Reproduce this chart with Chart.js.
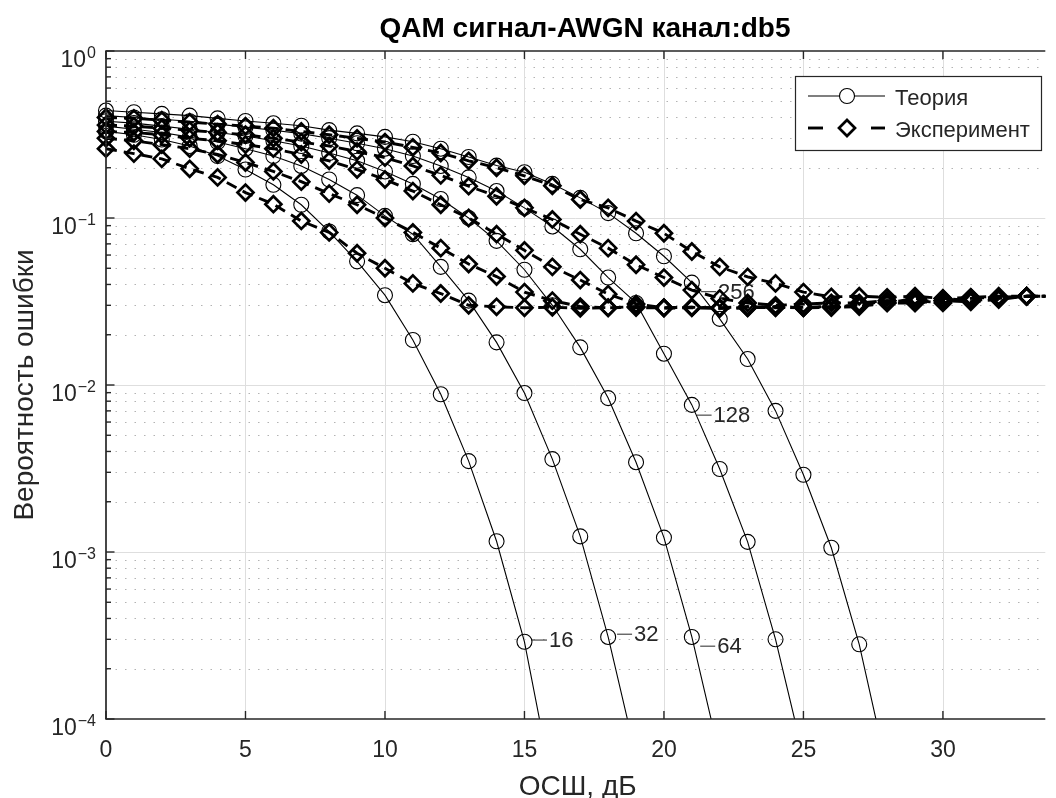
<!DOCTYPE html>
<html><head><meta charset="utf-8">
<script src="https://cdn.jsdelivr.net/npm/chart.js@4.4.1/dist/chart.umd.min.js"></script>
<style>html,body{margin:0;padding:0;background:#fff;overflow:hidden}#wrap{width:1056px;height:798px}</style>
</head><body><div id="wrap"><canvas id="c" width="1056" height="798"></canvas></div>
<script>
// ---------- data ----------
const snrDb = [0,1,2,3,4,5,6,7,8,9,10,11,12,13,14,15,16,17,18,19,20,21,22,23,24,25,26,27,28,29,30,31,32,33,34];
const orders = ['16','32','64','128','256'];

const theory16  = [0.33,0.315,0.295,0.27,0.235,0.195,0.158,0.12,0.083,0.055,0.0345,0.0186,0.0088,0.0035,0.00116,0.00029,0.00004];
const theory32  = [0.355,0.34,0.325,0.305,0.285,0.26,0.235,0.205,0.17,0.137,0.103,0.08,0.051,0.032,0.018,0.00895,0.0036,0.00124,0.00031,0.00006];
const theory64  = [0.38,0.37,0.355,0.34,0.325,0.31,0.29,0.27,0.245,0.22,0.19,0.16,0.13,0.10,0.073,0.049,0.03,0.0168,0.00835,0.00345,0.00122,0.00031,0.00006];
const theory128 = [0.41,0.40,0.39,0.38,0.365,0.35,0.335,0.32,0.30,0.28,0.26,0.235,0.205,0.175,0.145,0.115,0.089,0.065,0.044,0.031,0.0154,0.0076,0.00314,0.00115,0.0003,0.00006];
const theory256 = [0.44,0.43,0.42,0.41,0.395,0.381,0.369,0.357,0.336,0.321,0.306,0.286,0.26,0.232,0.206,0.188,0.16,0.132,0.107,0.081,0.059,0.041,0.0249,0.0143,0.007,0.0029,0.00106,0.00028,0.00005];

const exper16  = [0.26,0.243,0.226,0.197,0.175,0.142,0.121,0.096,0.082,0.0615,0.05,0.0406,0.0353,0.030,0.0294,0.029,0.0292,0.0288,0.029,0.0291,0.0289,0.029,0.0288,0.029,0.0292,0.029,0.0291,0.0295,0.031,0.031,0.032,0.0315,0.0325,0.034,0.034];
const exper32  = [0.30,0.29,0.275,0.26,0.24,0.215,0.19,0.165,0.14,0.12,0.10,0.082,0.066,0.053,0.0446,0.036,0.032,0.0295,0.029,0.0295,0.029,0.0292,0.029,0.0295,0.029,0.0292,0.0295,0.030,0.032,0.031,0.033,0.032,0.033,0.034,0.034];
const exper64  = [0.33,0.325,0.315,0.30,0.29,0.275,0.26,0.24,0.22,0.195,0.17,0.145,0.12,0.10,0.08,0.064,0.051,0.0425,0.035,0.0306,0.029,0.0292,0.0288,0.029,0.0295,0.029,0.0293,0.030,0.031,0.033,0.032,0.033,0.0335,0.034,0.034];
const exper128 = [0.36,0.355,0.345,0.335,0.325,0.315,0.30,0.285,0.27,0.25,0.23,0.205,0.18,0.155,0.135,0.115,0.098,0.08,0.066,0.0525,0.044,0.037,0.033,0.031,0.030,0.0305,0.031,0.031,0.032,0.032,0.031,0.0335,0.033,0.034,0.034];
const exper256 = [0.40,0.395,0.385,0.375,0.365,0.355,0.345,0.33,0.315,0.30,0.285,0.265,0.245,0.22,0.20,0.179,0.156,0.129,0.115,0.0958,0.081,0.063,0.051,0.0444,0.0406,0.036,0.0337,0.034,0.0335,0.034,0.033,0.0335,0.034,0.034,0.034];

// curve annotation anchors (dB, probability)
const curveLabelX = [15.27, 18.32, 21.3, 21.17, 21.33];
const curveLabelY = [2.97e-4, 3.22e-4, 2.73e-4, 6.6e-3, 0.0362];

const xTickValues = [0,5,10,15,20,25,30];
const xTickLabels = ['0','5','10','15','20','25','30'];
const yTickExponents = [0,-1,-2,-3,-4];
const legendLabels = ['Теория','Эксперимент'];
const titleText = 'QAM сигнал-AWGN канал:db5';
const xTitle = 'ОСШ, дБ';
const yTitle = 'Вероятность ошибки';

// ---------- styling ----------
const FONT = '"Liberation Sans", Arial, Helvetica, sans-serif';
const AX = '#262626';
const theoryAll = [theory16, theory32, theory64, theory128, theory256];
const experAll = [exper16, exper32, exper64, exper128, exper256];
const pts = arr => arr.map((v, i) => ({x: snrDb[i], y: v}));
const CLIP = {left: 12, top: 4, right: 0, bottom: 0};

const datasets = [];
orders.forEach((m, k) => {
  datasets.push({
    label: 'Теория ' + m, data: pts(theoryAll[k]),
    borderColor: '#000', borderWidth: 1.1, pointStyle: 'circle', pointRadius: 7.5,
    pointBorderWidth: 1.1, pointBorderColor: '#000', pointBackgroundColor: 'rgba(0,0,0,0)',
    fill: false, tension: 0, clip: CLIP
  });
  datasets.push({
    label: 'Эксперимент ' + m, data: pts(experAll[k]),
    borderColor: '#000', borderWidth: 2.9, borderDash: [11, 7], pointStyle: 'rectRot', pointRadius: 8,
    pointBorderWidth: 2.7, pointBorderColor: '#000', pointBackgroundColor: 'rgba(0,0,0,0)',
    fill: false, tension: 0, clip: CLIP
  });
});

function seg(ctx, x1, y1, x2, y2) { ctx.beginPath(); ctx.moveTo(x1, y1); ctx.lineTo(x2, y2); ctx.stroke(); }

const decor = {
  id: 'decor',
  beforeDatasetsDraw(chart) {
    const {ctx, chartArea: a, scales: {x, y}} = chart;
    ctx.save();
    ctx.lineWidth = 1;
    // minor dotted grid (y)
    ctx.strokeStyle = 'rgba(38,38,38,0.35)';
    ctx.setLineDash([1.5, 8]);
    for (let e = -4; e < 0; e++) for (let k = 2; k <= 9; k++) {
      const py = Math.round(y.getPixelForValue(k * Math.pow(10, e))) + 0.5;
      seg(ctx, a.left, py, a.right, py);
    }
    ctx.setLineDash([]);
    ctx.strokeStyle = '#dedede';
    yTickExponents.forEach(e => {
      if (e === 0 || e === -4) return;
      const py = Math.round(y.getPixelForValue(Math.pow(10, e))) + 0.5;
      seg(ctx, a.left, py, a.right, py);
    });
    xTickValues.forEach(v => {
      if (v === 0) return;
      const px = Math.round(x.getPixelForValue(v)) + 0.5;
      seg(ctx, px, a.top, px, a.bottom);
    });
    // curve annotations
    ctx.strokeStyle = '#262626'; ctx.fillStyle = '#262626'; ctx.lineWidth = 1;
    ctx.font = '22px ' + FONT; ctx.textBaseline = 'middle'; ctx.textAlign = 'left';
    orders.forEach((m, k) => {
      const px = x.getPixelForValue(curveLabelX[k]);
      const py = y.getPixelForValue(curveLabelY[k]);
      seg(ctx, px, py, px + 15, py);
      ctx.fillText(m, px + 17, py + 1);
    });
    ctx.restore();
  },
  afterDatasetsDraw(chart) {
    const {ctx, chartArea: a, scales: {x, y}} = chart;
    ctx.save();
    ctx.strokeStyle = AX; ctx.fillStyle = AX; ctx.lineWidth = 1.7;
    // box (left, bottom, top)
    seg(ctx, a.left, a.top, a.left, a.bottom);
    seg(ctx, a.left - 0.8, a.bottom, a.right, a.bottom);
    seg(ctx, a.left - 0.8, a.top, a.right, a.top);
    // x ticks
    ctx.lineWidth = 1.4;
    xTickValues.forEach(v => {
      const px = x.getPixelForValue(v);
      seg(ctx, px, a.bottom, px, a.bottom - 8);
      seg(ctx, px, a.top, px, a.top + 8);
    });
    // y ticks
    for (let e = -4; e <= 0; e++) {
      const py = y.getPixelForValue(Math.pow(10, e));
      seg(ctx, a.left, py, a.left + 8.5, py);
      if (e < 0) for (let k = 2; k <= 9; k++) {
        const pm = y.getPixelForValue(k * Math.pow(10, e));
        seg(ctx, a.left, pm, a.left + 5, pm);
      }
    }
    // x tick labels
    ctx.font = '23px ' + FONT; ctx.textAlign = 'center'; ctx.textBaseline = 'alphabetic';
    xTickValues.forEach((v, i) => ctx.fillText(xTickLabels[i], x.getPixelForValue(v), a.bottom + 38));
    // y tick labels 10^e
    yTickExponents.forEach(e => {
      const py = y.getPixelForValue(Math.pow(10, e));
      const expTxt = e < 0 ? '\u2212' + (-e) : String(e);
      ctx.font = '16px ' + FONT;
      const we = ctx.measureText(expTxt).width;
      ctx.textAlign = 'left';
      ctx.fillText(expTxt, 96 - we, py + 7);
      ctx.font = '23px ' + FONT;
      const wb = ctx.measureText('10').width;
      ctx.fillText('10', 96 - we - wb - 1, py + 15.5);
    });
    // title
    ctx.fillStyle = '#000';
    ctx.font = 'bold 28px ' + FONT; ctx.textAlign = 'center';
    ctx.fillText(titleText, 585, 37);
    // axis titles
    ctx.fillStyle = AX;
    ctx.font = '28px ' + FONT;
    ctx.fillText(xTitle, (a.left + a.right) / 2 + 2, 795);
    ctx.save();
    ctx.translate(33, (a.top + a.bottom) / 2);
    ctx.rotate(-Math.PI / 2);
    ctx.fillText(yTitle, 0, 0);
    ctx.restore();
    // legend
    const L = 795, T = 76, R = 1041, B = 150;
    ctx.fillStyle = '#fff'; ctx.fillRect(L, T, R - L, B - T);
    ctx.strokeStyle = AX; ctx.lineWidth = 1.2; ctx.strokeRect(L + 0.5, T + 0.5, R - L, B - T);
    ctx.strokeStyle = '#000';
    // row 1: theory
    ctx.lineWidth = 1.1;
    seg(ctx, 808, 96, 885, 96);
    ctx.fillStyle = '#fff';
    ctx.beginPath(); ctx.arc(847, 96, 7.5, 0, Math.PI * 2); ctx.fill(); ctx.stroke();
    // row 2: experiment
    ctx.lineWidth = 2.9;
    seg(ctx, 808, 128, 823, 128);
    seg(ctx, 871, 128, 885, 128);
    ctx.lineWidth = 2.7;
    ctx.beginPath(); ctx.moveTo(847, 120); ctx.lineTo(855, 128); ctx.lineTo(847, 136); ctx.lineTo(839, 128); ctx.closePath(); ctx.stroke();
    ctx.fillStyle = AX; ctx.font = '22px ' + FONT; ctx.textAlign = 'left';
    ctx.fillText(legendLabels[0], 895, 105);
    ctx.fillText(legendLabels[1], 895, 136.5);
    ctx.restore();
  }
};

new Chart(document.getElementById('c'), {
  type: 'line',
  data: {datasets},
  options: {
    responsive: false, animation: false, devicePixelRatio: 1, events: [],
    layout: {padding: {left: 106, top: 51, right: 0, bottom: 79}},
    plugins: {legend: {display: false}, title: {display: false}, tooltip: {enabled: false}},
    scales: {
      x: {type: 'linear', min: 0, max: 33.67, display: false},
      y: {type: 'logarithmic', min: 1e-4, max: 1, display: false}
    }
  },
  plugins: [decor]
});
</script></body></html>
